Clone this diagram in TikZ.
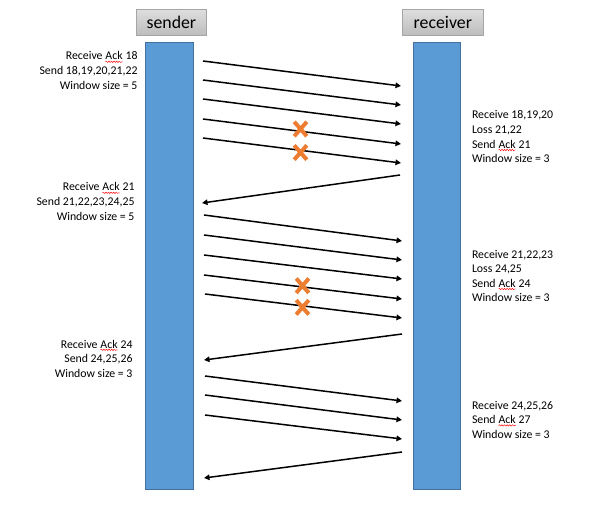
\documentclass[tikz,border=0pt]{standalone}
\usepackage{fontspec}
\setmainfont{Carlito}
\usetikzlibrary{arrows.meta,decorations.pathmorphing}
\definecolor{barblue}{HTML}{5B9BD5}
\definecolor{barline}{HTML}{41719C}
\definecolor{xorange}{HTML}{ED7D31}
\definecolor{hdrline}{HTML}{A5A5A5}
\definecolor{hdrtop}{HTML}{DEDEDE}
\definecolor{hdrbot}{HTML}{BDBDBD}
\newcommand\sqack{\tikz[baseline=(w.base)]{\node[inner sep=0pt,outer sep=0pt](w){Ack};\draw[red,line width=0.45pt,decorate,decoration={snake,amplitude=0.7pt,segment length=2.6pt}] ([yshift=-1.8pt]w.base west) -- ([yshift=-1.8pt]w.base east);}}
\begin{document}
\begin{tikzpicture}[x=1pt,y=-1pt,
  hdr/.style={draw=hdrline, line width=0.8pt, top color=hdrtop, bottom color=hdrbot,
    minimum height=25.7pt, inner sep=0pt, font=\fontsize{17.8}{20}\selectfont},
  bar/.style={draw=barline, fill=barblue, line width=0.8pt, inner sep=0pt,
    minimum width=47.6pt, minimum height=446.8pt},
  msg/.style={line width=1.5pt, -{Triangle[length=5.5pt,width=5.5pt]}},
  lbl/.style={font=\fontsize{11.8}{14.6}\selectfont, inner sep=0pt, outer sep=0pt},
  lossx/.pic={\draw[xorange, line width=4pt] (-6.3,-7.2) -- (6.3,7.2) (-6.3,7.2) -- (6.3,-7.2);}]
\useasboundingbox (0,0) rectangle (612,510);
\fill[white] (0,0) rectangle (612,510);

% headers and lifelines
\node[hdr, minimum width=70.7pt] (snd) at (171.4,22.2) {sender};
\node[hdr, minimum width=81pt] (rcv) at (442.8,22.2) {receiver};
\node[bar] (sbar) at (169.5,266.1) {};
\node[bar] (rbar) at (437,266.1) {};

% end points of the messages
\coordinate (a1s) at (203,61);  \coordinate (a1e) at (401,86);
\coordinate (a2s) at (203,80);  \coordinate (a2e) at (401,105);
\coordinate (a3s) at (203,99);  \coordinate (a3e) at (401,124);
\coordinate (a4s) at (203,119); \coordinate (a4e) at (401,144);
\coordinate (a5s) at (203,138); \coordinate (a5e) at (401,163);
\coordinate (k1s) at (400,175); \coordinate (k1e) at (202,203);
\coordinate (b1s) at (204,215); \coordinate (b1e) at (402,241);
\coordinate (b2s) at (204,235); \coordinate (b2e) at (402,260);
\coordinate (b3s) at (204,255); \coordinate (b3e) at (402,279);
\coordinate (b4s) at (204,275); \coordinate (b4e) at (402,299);
\coordinate (b5s) at (205,294); \coordinate (b5e) at (402,318);
\coordinate (k2s) at (402,334); \coordinate (k2e) at (204,360);
\coordinate (c1s) at (205,376); \coordinate (c1e) at (402,401);
\coordinate (c2s) at (205,395); \coordinate (c2e) at (402,420);
\coordinate (c3s) at (205,415); \coordinate (c3e) at (402,439);
\coordinate (k3s) at (402,452); \coordinate (k3e) at (204,478);

\foreach \m in {a1,a2,a3,a4,a5,k1,b1,b2,b3,b4,b5,k2,c1,c2,c3,k3}
  \draw[msg] (\m s) -- (\m e);

% losses
\pic (x1) at (300.5,129) {lossx};
\pic (x2) at (300.5,152.5) {lossx};
\pic (x3) at (302.5,285.7) {lossx};
\pic (x4) at (302.5,307.3) {lossx};

% sender notes (anchored at the baseline of their last line)
\node[lbl, anchor=base east, align=right] (sn1) at (137.5,89.2)
  {Receive \sqack{} 18\\Send 18,19,20,21,22\\Window size = 5};
\node[lbl, anchor=base east, align=right] (sn2) at (134.5,220.2)
  {Receive \sqack{} 21\\Send 21,22,23,24,25\\Window size = 5};
\node[lbl, anchor=base east, align=right] (sn3) at (132.5,377.2)
  {Receive \sqack{} 24\\Send 24,25,26\\Window size = 3};

% receiver notes
\node[lbl, anchor=base west, align=left] (rn1) at (472,162.8)
  {Receive 18,19,20\\Loss 21,22\\Send \sqack{} 21\\Window size = 3};
\node[lbl, anchor=base west, align=left] (rn2) at (472,301.8)
  {Receive 21,22,23\\Loss 24,25\\Send \sqack{} 24\\Window size = 3};
\node[lbl, anchor=base west, align=left] (rn3) at (472,438.2)
  {Receive 24,25,26\\Send \sqack{} 27\\Window size = 3};
\end{tikzpicture}
\end{document}
